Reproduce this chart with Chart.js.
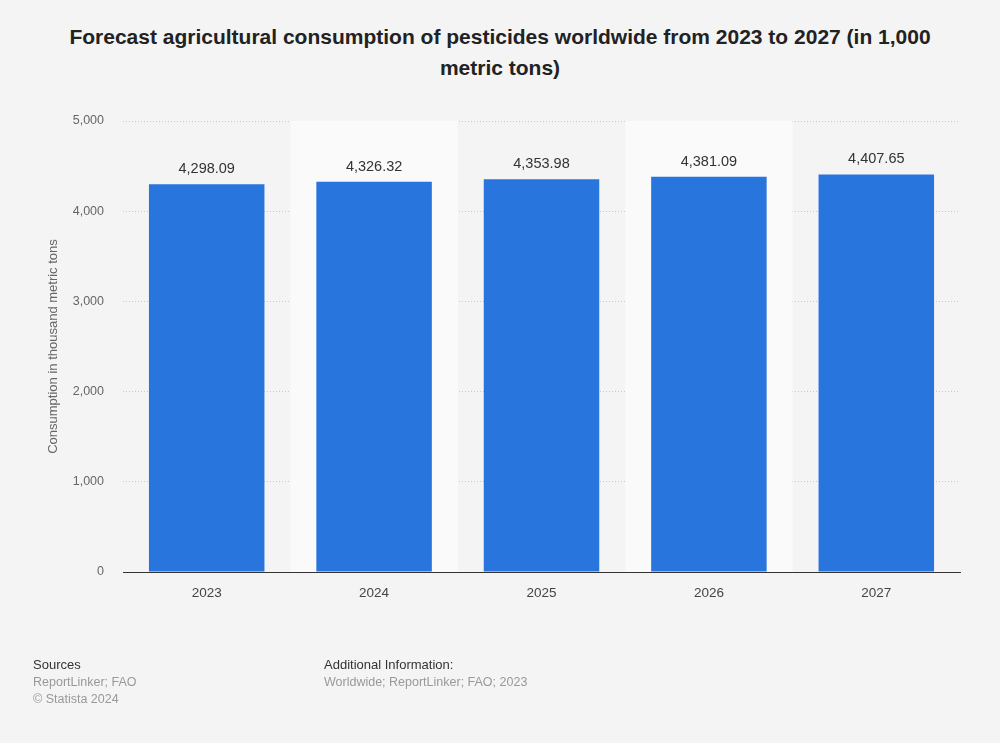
<!DOCTYPE html>
<html>
<head>
<meta charset="utf-8">
<script src="https://cdn.jsdelivr.net/npm/chart.js@4"></script>
<style>
  html, body { margin: 0; padding: 0; background: #f4f4f4; }
  body { width: 1000px; height: 743px; position: relative; overflow: hidden; font-family: "Liberation Sans", Arial, sans-serif; }
  #title { position: absolute; left: 50px; right: 50px; top: 21px; text-align: center; font-weight: bold; font-size: 21px; line-height: 31px; color: #222; }
  #wrap { position: absolute; left: 0; top: 0; width: 1000px; height: 743px; }
  .foot { position: absolute; top: 656px; font-size: 12.5px; line-height: 17px; color: #999; }
  .foot b { font-weight: normal; color: #333; font-size: 13px; }
</style>
</head>
<body>
<div id="title">Forecast agricultural consumption of pesticides worldwide from 2023 to 2027 (in 1,000 metric tons)</div>
<div id="wrap"><canvas id="chart"></canvas></div>
<div class="foot" style="left:33px"><b>Sources</b><br>ReportLinker; FAO<br>© Statista 2024</div>
<div class="foot" style="left:324px"><b>Additional Information:</b><br>Worldwide; ReportLinker; FAO; 2023</div>
<script>
const years = ['2023', '2024', '2025', '2026', '2027'];
const consumption = [4298.09, 4326.32, 4353.98, 4381.09, 4407.65];
const yTicks = [0, 1000, 2000, 3000, 4000, 5000];

const fmt = (v, d) => v.toLocaleString('en-US', { minimumFractionDigits: d, maximumFractionDigits: d });

// alternating light column bands behind the bars
const bandPlugin = {
    id: 'bands',
    beforeDatasetsDraw(chart) {
        const { ctx, chartArea, scales: { x } } = chart;
        const step = x.getPixelForValue(1) - x.getPixelForValue(0);
        ctx.save();
        ctx.fillStyle = '#fafafa';
        years.forEach((y, i) => {
            if (i % 2 === 1) {
                const cx = x.getPixelForValue(i);
                ctx.fillRect(cx - step / 2, chartArea.top, step, chartArea.bottom - chartArea.top);
            }
        });
        ctx.restore();
    }
};

// value labels above bars
const valueLabels = {
    id: 'valueLabels',
    afterDatasetsDraw(chart) {
        const { ctx } = chart;
        const meta = chart.getDatasetMeta(0);
        ctx.save();
        ctx.font = '14.5px "Liberation Sans", Arial, sans-serif';
        ctx.fillStyle = '#333';
        ctx.textAlign = 'center';
        ctx.textBaseline = 'middle';
        meta.data.forEach((bar, i) => {
            ctx.fillText(fmt(consumption[i], 2), bar.x, bar.y - 15);
        });
        ctx.restore();
    }
};

new Chart(document.getElementById('chart'), {
    type: 'bar',
    data: {
        labels: years,
        datasets: [{
            data: consumption,
            backgroundColor: '#2876dd',
            barPercentage: 0.69,
            categoryPercentage: 1,
        }]
    },
    options: {
        responsive: true,
        maintainAspectRatio: false,
        animation: false,
        layout: { padding: { left: 40, right: 40, top: 121, bottom: 131 } },
        scales: {
            x: {
                grid: { display: false },
                border: { color: '#333', width: 1 },
                ticks: { color: '#444', font: { size: 13.5, family: '"Liberation Sans", Arial' }, padding: 5 },
                afterFit: (s) => { s.height = 40; },
            },
            y: {
                min: 0, max: 5000,
                afterBuildTicks: (s) => { s.ticks = yTicks.map(v => ({ value: v })); },
                grid: {
                    color: (c) => c.tick && c.tick.value === 0 ? 'rgba(0,0,0,0)' : '#c8c8c8',
                    drawTicks: false,
                },
                border: { display: false, dash: [1, 2] },
                ticks: {
                    color: '#666', padding: 19,
                    font: { size: 12.5, family: '"Liberation Sans", Arial' },
                    callback: (v) => fmt(v, 0),
                },
                title: {
                    display: true, text: 'Consumption in thousand metric tons',
                    color: '#666', font: { size: 13, family: '"Liberation Sans", Arial' }, padding: 6,
                },
                afterFit: (s) => { s.width = 83; },
            }
        },
        plugins: {
            legend: { display: false },
            tooltip: { enabled: false },
        },
    },
    plugins: [bandPlugin, valueLabels],
});
</script>
</body>
</html>
